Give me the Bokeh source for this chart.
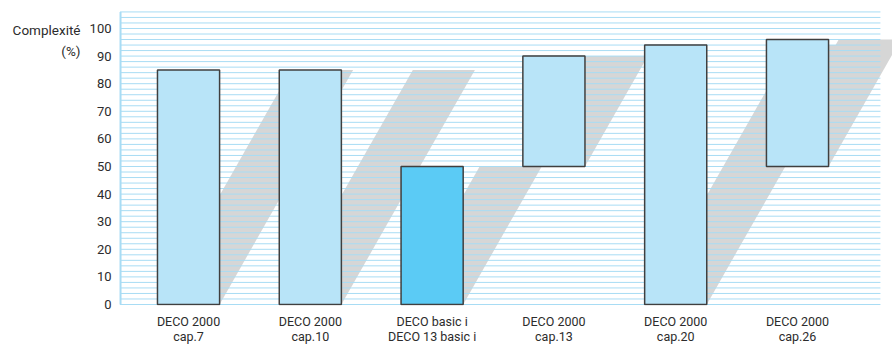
from bokeh.plotting import figure
from bokeh.models import Range1d, FixedTicker
from bokeh.layouts import row
from bokeh.core.properties import value
from bokeh.embed import file_html
from bokeh.resources import INLINE

# ---- data ----
categories = ["DECO 2000\ncap.7", "DECO 2000\ncap.10", "DECO basic i\nDECO 13 basic i",
              "DECO 2000\ncap.13", "DECO 2000\ncap.20", "DECO 2000\ncap.26"]
low_values = [0, 0, 0, 50, 0, 50]
high_values = [85, 85, 50, 90, 94, 96]
highlight = [False, False, True, False, False, False]
y_ticks = [0, 10, 20, 30, 40, 50, 60, 70, 80, 90, 100]
y_title_lines = ["Complexité", "(%)"]
y_title_pos = [99.6, 92.0]

# ---- style ----
LIGHT = "#b8e4f8"
DARK = "#5bcbf5"
SHADOW = "#d6d6d6"
GRID = "#a8dcf4"
TXT = "#2c2c2c"
FONT = "Roboto"
BAR_W = 0.51
SHEAR = 0.0129  # horizontal offset (category units) per unit of height
BOTTOM = 42

y_range = Range1d(-0.362, 110.14)
x_pos = list(range(len(categories)))

# ---- left strip holding the y title ----
t = figure(width=84, height=347, output_backend="svg", toolbar_location=None,
           x_range=Range1d(0, 84), y_range=y_range,
           x_axis_location=None, y_axis_location=None,
           min_border_left=0, min_border_right=0, min_border_top=0,
           min_border_bottom=BOTTOM)
t.outline_line_color = None
t.xgrid.visible = False
t.ygrid.visible = False
t.text(x=[80] * len(y_title_lines), y=y_title_pos, text=y_title_lines,
       text_align="right", text_baseline="middle", text_font=value(FONT),
       text_font_size="13.5px", text_color=TXT)

# ---- main chart ----
p = figure(width=808, height=347, output_backend="svg", toolbar_location=None,
           x_range=Range1d(-0.575, 5.78), y_range=y_range,
           min_border_left=34, min_border_right=0, min_border_top=0,
           min_border_bottom=BOTTOM)
p.outline_line_color = None
p.xgrid.visible = False
p.ygrid.visible = False

# shadows (sheared copies of the bars)
xs, ys = [], []
for x, lo, hi in zip(x_pos, low_values, high_values):
    l, r = x - BAR_W / 2, x + BAR_W / 2
    d = SHEAR * (hi - lo)
    xs.append([l, r, r + d, l + d])
    ys.append([lo, lo, hi, hi])
p.patches(xs, ys, fill_color=SHADOW, line_color=None)

# horizontal rules every 2 units
levels = list(range(0, 107, 2))
gx0, gx1 = -0.5624, 5.681
p.segment(x0=[gx0] * len(levels), y0=levels, x1=[gx1] * len(levels), y1=levels,
          line_color=GRID, line_width=1)
p.segment(x0=[-0.5583], y0=[0], x1=[-0.5583], y1=[106], line_color=GRID, line_width=2)

# bars
colors = [DARK if h else LIGHT for h in highlight]
p.quad(left=[x - BAR_W / 2 for x in x_pos], right=[x + BAR_W / 2 for x in x_pos],
       bottom=low_values, top=high_values, fill_color=colors,
       line_color="#3f3f3f", line_width=1.5)

# axes
for ax in (p.xaxis, p.yaxis):
    ax.axis_line_color = None
    ax.major_tick_line_color = None
    ax.minor_tick_line_color = None
    ax.major_tick_out = 0
    ax.major_tick_in = 0
    ax.minor_tick_out = 0
    ax.minor_tick_in = 0
    ax.axis_label_standoff = 0
    ax.major_label_text_font = FONT
    ax.major_label_text_color = TXT

p.xaxis.ticker = FixedTicker(ticks=x_pos)
p.xaxis.major_label_overrides = {i: c for i, c in zip(x_pos, categories)}
p.xaxis.major_label_standoff = 8
p.xaxis.major_label_text_font_size = "12.5px"
p.xaxis.major_label_text_line_height = 1.0

p.yaxis.ticker = FixedTicker(ticks=y_ticks)
p.yaxis.major_label_standoff = 7
p.yaxis.major_label_text_font_size = "13px"

layout = row(t, p, spacing=0)
open("out.html", "w").write(file_html(layout, INLINE))
